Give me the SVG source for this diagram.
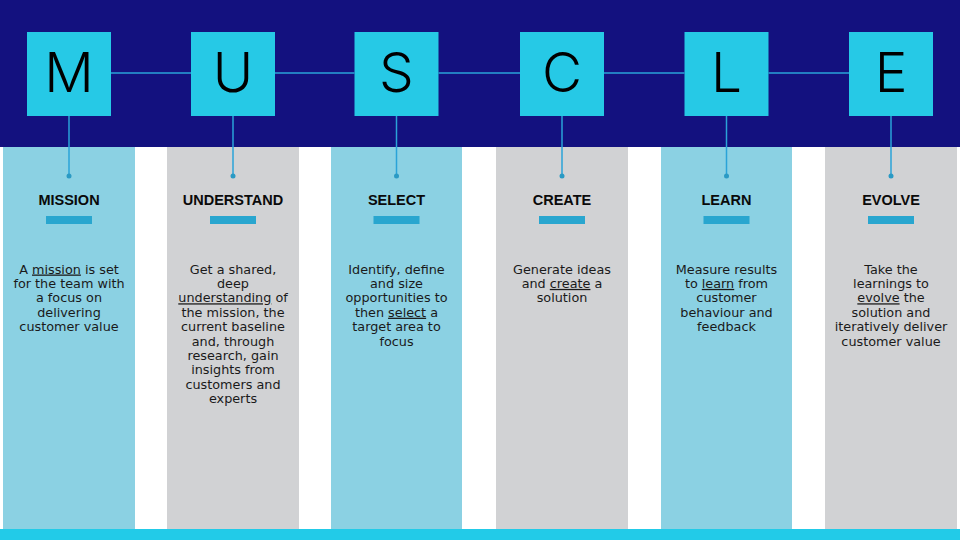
<svg xmlns="http://www.w3.org/2000/svg" width="960" height="540" viewBox="0 0 960 540">
<style>
.band{fill:#13117f}
.sq{fill:#26c9e6}
.letter{font-family:Inter,"Open Sans","Liberation Sans",sans-serif;font-weight:300;font-size:55px;fill:#000;text-anchor:middle}
.colA{fill:#8bd1e3}
.colB{fill:#d1d2d4}
.title{font-family:"Liberation Sans",Arial,sans-serif;font-weight:bold;font-size:14.5px;fill:#0a0a0a;text-anchor:middle}
.bar{fill:#29a6cf}
.body{font-family:"DejaVu Sans","Liberation Sans",sans-serif;font-size:12.8px;fill:#1a1a1a;text-anchor:middle}
.u{text-decoration:underline}
.con{stroke:#2aa3d8;stroke-width:1.5;fill:none}
.dot{fill:#2a9ac4}
</style>
<rect width="960" height="540" fill="#ffffff"/>
<rect class="band" x="0" y="0" width="960" height="147"/>
<rect x="0" y="529" width="960" height="11" fill="#22cbe8"/>

<g id="node-m">
<rect class="sq" x="27" y="32" width="84" height="84"/>
<text class="letter" x="69" y="92">M</text>
<rect class="colA" x="3" y="147" width="132" height="382"/>
<text class="title" x="69" y="205">MISSION</text>
<rect class="bar" x="46" y="216" width="46" height="8"/>
<text class="body" x="69" y="273.5"><tspan x="69">A <tspan class="u">mission</tspan> is set</tspan><tspan x="69" dy="14.4">for the team with</tspan><tspan x="69" dy="14.4">a focus on</tspan><tspan x="69" dy="14.4">delivering</tspan><tspan x="69" dy="14.4">customer value</tspan></text>
</g>

<g id="node-u">
<rect class="sq" x="191" y="32" width="84" height="84"/>
<text class="letter" x="233" y="92">U</text>
<rect class="colB" x="167" y="147" width="132" height="382"/>
<text class="title" x="233" y="205">UNDERSTAND</text>
<rect class="bar" x="210" y="216" width="46" height="8"/>
<text class="body" x="233" y="273.5"><tspan x="233">Get a shared,</tspan><tspan x="233" dy="14.4">deep</tspan><tspan x="233" dy="14.4"><tspan class="u">understanding</tspan> of</tspan><tspan x="233" dy="14.4">the mission, the</tspan><tspan x="233" dy="14.4">current baseline</tspan><tspan x="233" dy="14.4">and, through</tspan><tspan x="233" dy="14.4">research, gain</tspan><tspan x="233" dy="14.4">insights from</tspan><tspan x="233" dy="14.4">customers and</tspan><tspan x="233" dy="14.4">experts</tspan></text>
</g>

<g id="node-s">
<rect class="sq" x="354.5" y="32" width="84" height="84"/>
<text class="letter" x="396.5" y="92">S</text>
<rect class="colA" x="331" y="147" width="131" height="382"/>
<text class="title" x="396.5" y="205">SELECT</text>
<rect class="bar" x="373.5" y="216" width="46" height="8"/>
<text class="body" x="396.5" y="273.5"><tspan x="396.5">Identify, define</tspan><tspan x="396.5" dy="14.4">and size</tspan><tspan x="396.5" dy="14.4">opportunities to</tspan><tspan x="396.5" dy="14.4">then <tspan class="u">select</tspan> a</tspan><tspan x="396.5" dy="14.4">target area to</tspan><tspan x="396.5" dy="14.4">focus</tspan></text>
</g>

<g id="node-c">
<rect class="sq" x="520" y="32" width="84" height="84"/>
<text class="letter" x="562" y="92">C</text>
<rect class="colB" x="496" y="147" width="132" height="382"/>
<text class="title" x="562" y="205">CREATE</text>
<rect class="bar" x="539" y="216" width="46" height="8"/>
<text class="body" x="562" y="273.5"><tspan x="562">Generate ideas</tspan><tspan x="562" dy="14.4">and <tspan class="u">create</tspan> a</tspan><tspan x="562" dy="14.4">solution</tspan></text>
</g>

<g id="node-l">
<rect class="sq" x="684.5" y="32" width="84" height="84"/>
<text class="letter" x="726.5" y="92">L</text>
<rect class="colA" x="661" y="147" width="131" height="382"/>
<text class="title" x="726.5" y="205">LEARN</text>
<rect class="bar" x="703.5" y="216" width="46" height="8"/>
<text class="body" x="726.5" y="273.5"><tspan x="726.5">Measure results</tspan><tspan x="726.5" dy="14.4">to <tspan class="u">learn</tspan> from</tspan><tspan x="726.5" dy="14.4">customer</tspan><tspan x="726.5" dy="14.4">behaviour and</tspan><tspan x="726.5" dy="14.4">feedback</tspan></text>
</g>

<g id="node-e">
<rect class="sq" x="849" y="32" width="84" height="84"/>
<text class="letter" x="891" y="92">E</text>
<rect class="colB" x="825" y="147" width="132" height="382"/>
<text class="title" x="891" y="205">EVOLVE</text>
<rect class="bar" x="868" y="216" width="46" height="8"/>
<text class="body" x="891" y="273.5"><tspan x="891">Take the</tspan><tspan x="891" dy="14.4">learnings to</tspan><tspan x="891" dy="14.4"><tspan class="u">evolve</tspan> the</tspan><tspan x="891" dy="14.4">solution and</tspan><tspan x="891" dy="14.4">iteratively deliver</tspan><tspan x="891" dy="14.4">customer value</tspan></text>
</g>

<g id="connectors">
<line class="con" x1="111" y1="73" x2="191" y2="73"/>
<line class="con" x1="275" y1="73" x2="354.5" y2="73"/>
<line class="con" x1="438.5" y1="73" x2="520" y2="73"/>
<line class="con" x1="604" y1="73" x2="684.5" y2="73"/>
<line class="con" x1="768.5" y1="73" x2="849" y2="73"/>
<line class="con" x1="69" y1="116" x2="69" y2="176"/><circle class="dot" cx="69" cy="176" r="2.5"/>
<line class="con" x1="233" y1="116" x2="233" y2="176"/><circle class="dot" cx="233" cy="176" r="2.5"/>
<line class="con" x1="396.5" y1="116" x2="396.5" y2="176"/><circle class="dot" cx="396.5" cy="176" r="2.5"/>
<line class="con" x1="562" y1="116" x2="562" y2="176"/><circle class="dot" cx="562" cy="176" r="2.5"/>
<line class="con" x1="726.5" y1="116" x2="726.5" y2="176"/><circle class="dot" cx="726.5" cy="176" r="2.5"/>
<line class="con" x1="891" y1="116" x2="891" y2="176"/><circle class="dot" cx="891" cy="176" r="2.5"/>
</g>
</svg>
